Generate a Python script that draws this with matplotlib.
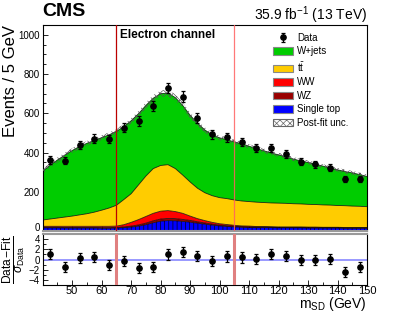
import numpy as np
import matplotlib
matplotlib.use('Agg')
import matplotlib.pyplot as plt
from matplotlib.patches import Patch
from matplotlib.ticker import MultipleLocator, FixedLocator

plt.rcParams['font.family'] = ['Liberation Sans', 'DejaVu Sans']
plt.rcParams['mathtext.fontset'] = 'custom'
plt.rcParams['mathtext.rm'] = 'Liberation Sans'
plt.rcParams['mathtext.it'] = 'Liberation Sans:italic'
plt.rcParams['mathtext.bf'] = 'Liberation Sans:bold'
plt.rcParams['hatch.linewidth'] = 0.5

# fit curves (events / 5 GeV) read at 2.5 GeV steps
x_fit = np.arange(40, 150.1, 2.5)
single_top = [16, 16, 16, 15, 15, 15, 15, 15, 14, 14, 15, 17, 20, 25, 32, 42, 50, 53, 52, 49, 45, 40, 35,
              30, 26, 23, 21, 19, 18, 17, 17, 17, 16, 16, 16, 16, 15, 15, 15, 15, 15, 14, 14, 14, 14]
wz = [3, 3, 3, 3, 3, 3, 3, 3, 3, 3, 3, 4, 5, 6, 8, 10, 11, 11, 11, 10, 9, 7, 6,
      5, 4, 4, 3, 3, 3, 3, 3, 2, 2, 2, 2, 2, 2, 2, 2, 2, 2, 2, 2, 2, 2]
ww = [5, 5, 5, 6, 6, 6, 6, 6, 7, 7, 7, 11, 19, 27, 34, 38, 40, 40, 36, 31, 22, 16, 12,
      9, 7, 6, 5, 4, 4, 3, 3, 3, 3, 3, 3, 3, 3, 3, 2, 2, 2, 2, 2, 2, 2]
ttbar = [32, 37, 42, 47, 52, 58, 64, 72, 82, 93, 106, 128, 146, 177, 206, 228, 233, 234, 219, 195, 174, 155, 142,
         136, 133, 132, 129, 127, 125, 124, 122, 121, 121, 120, 118, 117, 116, 115, 114, 113, 111, 111, 109, 108, 106]
wjets = [249, 274, 296, 316, 334, 349, 359, 366, 370, 373, 377, 372, 372, 363, 360, 359, 366, 365, 362, 355, 340, 332, 320,
         310, 305, 300, 296, 292, 282, 273, 264, 255, 246, 237, 228, 219, 213, 206, 198, 189, 182, 174, 169, 162, 154]
fit_unc = [14, 13, 13, 12, 12, 12, 12, 12, 12, 12, 12, 13, 13, 14, 15, 16, 16, 16, 16, 15, 14, 13, 13,
           12, 12, 12, 11, 11, 11, 11, 11, 11, 10, 10, 10, 10, 10, 10, 10, 10, 10, 10, 10, 10, 10]

# data
x_data = np.arange(42.5, 150, 5)
data = [362, 359, 437, 471, 468, 527, 561, 639, 728, 685, 575, 493, 478, 454, 422, 422, 391, 354, 340, 323, 264, 264]
pull = [1.15, -1.5, 0.3, 0.45, -1.0, -0.3, -1.6, -1.5, 1.0, 1.5, 0.65, -0.25, 0.6, 0.4, 0.05, 1.15, 0.65,
        -0.15, -0.15, 0.1, -2.4, -1.5]

names = ['Single top', 'WZ', 'WW', r'$\mathrm{t\bar{t}}$', 'W+jets']
colors = ['#0000ff', '#990000', '#ff0000', '#ffcc00', '#00cc00']
comps = [single_top, wz, ww, ttbar, wjets]

W, H = 407, 313
fig = plt.figure(figsize=(W / 100, H / 100), dpi=100)
ax = fig.add_axes([42.7 / W, 1 - 231 / H, (367 - 42.7) / W, (231 - 25) / H])
rax = fig.add_axes([42.7 / W, 1 - 285 / H, (367 - 42.7) / W, (285 - 234) / H])

# stacked fit
low = np.zeros(len(x_fit))
for c, col, nm in zip(comps, colors, names):
    up = low + np.array(c)
    if nm == 'Single top':
        ax.fill_between(x_fit, low, up, facecolor=col, edgecolor='#000022', hatch='||||', lw=0, zorder=2)
    else:
        ax.fill_between(x_fit, low, up, facecolor=col, lw=0, zorder=2)
    ax.plot(x_fit, up, color='k', lw=0.6, alpha=0.8, zorder=3)
    low = up
total = low
unc = np.array(fit_unc)
ax.fill_between(x_fit, total - unc, total + unc, facecolor='none', edgecolor='#555555',
                hatch='xxxxx', lw=0, zorder=4)

# data
eb = ax.errorbar(x_data, data, yerr=np.sqrt(data), fmt='o', color='k', ms=3.8, lw=0.9,
                 capsize=1.3, capthick=0.9, zorder=6)

ax.axvline(65, color='#bb0000', lw=0.9, zorder=5)
ax.axvline(105, color='#ff6060', lw=0.9, alpha=0.85, zorder=5)

ax.set_xlim(40, 150)
ax.set_ylim(0, 1050)
ax.yaxis.set_major_locator(MultipleLocator(200))
ax.yaxis.set_minor_locator(MultipleLocator(50))
ax.xaxis.set_major_locator(MultipleLocator(10))
ax.xaxis.set_minor_locator(MultipleLocator(5))
ax.tick_params(axis='both', which='both', direction='in', top=False, right=False, labelsize=7, pad=2)
ax.tick_params(axis='x', labelbottom=False)
ax.tick_params(which='major', length=3.5, width=0.6)
ax.tick_params(which='minor', length=2, width=0.6)
for s in ax.spines.values():
    s.set_linewidth(0.8)
ax.spines['bottom'].set_color('#999999')
ax.spines['bottom'].set_linewidth(1.5)

# legend
handles = [eb,
           Patch(facecolor='#00cc00', edgecolor='#888888', lw=0.8),
           Patch(facecolor='#ffcc00', edgecolor='#888888', lw=0.8),
           Patch(facecolor='#ff0000', edgecolor='#888888', lw=0.8),
           Patch(facecolor='#990000', edgecolor='#888888', lw=0.8),
           Patch(facecolor='#0000ff', edgecolor='#888888', lw=0.8),
           Patch(facecolor='white', edgecolor='#666666', hatch='xxxxx', lw=0.8)]
labels = ['Data', 'W+jets', r'$\mathrm{t\bar{t}}$', 'WW', 'WZ', 'Single top', 'Post-fit unc.']
fig.legend(handles, labels, loc='upper left', bbox_to_anchor=(273 / W, 1 - 33 / H), frameon=False,
           fontsize=7, handlelength=2.1, handleheight=0.85, handletextpad=0.4, labelspacing=0.36,
           borderpad=0, borderaxespad=0)

# ratio
rax.errorbar(x_data, pull, yerr=1, fmt='o', color='k', ms=3.8, lw=0.9, capsize=1.3, capthick=0.9, zorder=6)
rax.axhline(0, color='#8888ff', lw=1.2, zorder=2)
rax.axvline(65, color='#e08080', lw=2.2, zorder=3)
rax.axvline(105, color='#e08080', lw=2.2, zorder=3)
rax.set_xlim(40, 150)
rax.set_ylim(-5, 5)
rax.xaxis.set_major_locator(FixedLocator(np.arange(50, 151, 10)))
rax.xaxis.set_minor_locator(MultipleLocator(5))
rax.yaxis.set_major_locator(MultipleLocator(2))
rax.yaxis.set_minor_locator(MultipleLocator(1))
rax.tick_params(axis='both', which='both', direction='in', top=False, right=False, labelsize=8)
rax.tick_params(axis='x', pad=1)
rax.tick_params(axis='y', pad=2, labelsize=7)
rax.tick_params(which='major', length=3.5, width=0.6)
rax.tick_params(which='minor', length=2, width=0.6)
for s in rax.spines.values():
    s.set_linewidth(0.8)
rax.spines['top'].set_color('#999999')
rax.spines['top'].set_linewidth(1.5)

# text
fig.text(42 / W, 1 - 12 / H, 'CMS', fontsize=14, fontweight='bold', ha='left', va='center')
fig.text(367 / W, 1 - 15 / H, r'35.9 fb$^{-1}$ (13 TeV)', fontsize=10, ha='right', va='center')
fig.text(120 / W, 1 - 35 / H, 'Electron channel', fontsize=8.5, fontweight='bold', ha='left', va='center')
fig.text(11 / W, 1 - 25 / H, 'Events / 5 GeV', fontsize=12, rotation=90, ha='center', va='top')
fig.text(14 / W, 1 - 260 / H, r'$\frac{\mathrm{Data\!-\!Fit}}{\sigma_{\mathrm{Data}}}$', fontsize=12.5,
         rotation=90, ha='center', va='center')
fig.text(367 / W, 1 - 304 / H, r'm$_{\mathrm{SD}}$ (GeV)', fontsize=10, ha='right', va='center')

# the "0" of the upper panel sits on the axis line, as in the original
fig.canvas.draw()
for t in ax.get_yticklabels():
    if t.get_text() == '0':
        t.set_va('baseline')

fig.savefig('out.png', dpi=100)
